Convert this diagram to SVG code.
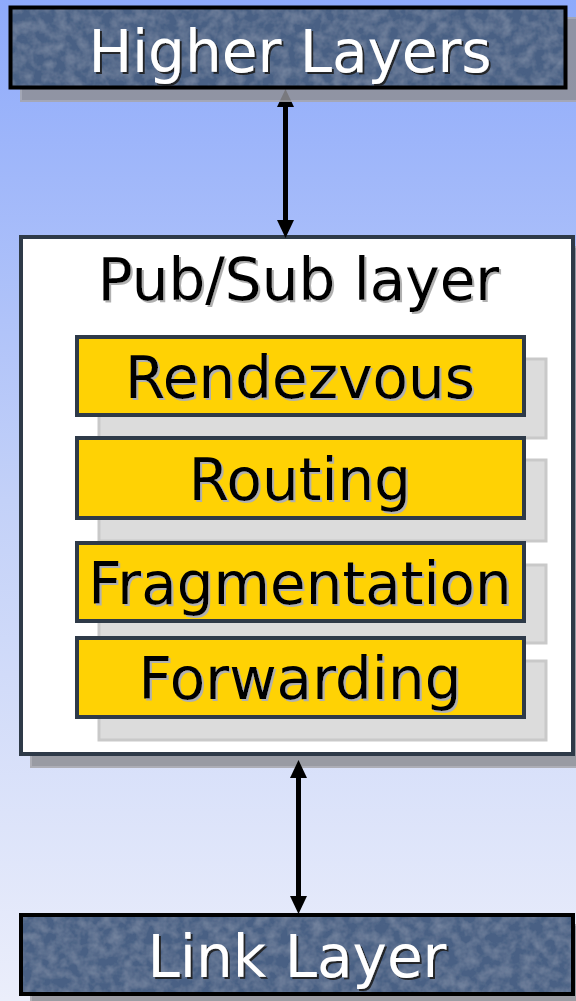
<svg xmlns="http://www.w3.org/2000/svg" width="576" height="1001" viewBox="0 0 576 1001">
  <defs>
    <linearGradient id="bg" x1="0" y1="0" x2="0" y2="1">
      <stop offset="0" stop-color="#8eaafb"/>
      <stop offset="0.5" stop-color="#c3d1f8"/>
      <stop offset="1" stop-color="#ebeefb"/>
    </linearGradient>
    <filter id="tex" x="0" y="0" width="100%" height="100%">
      <feTurbulence type="fractalNoise" baseFrequency="0.09" numOctaves="3" seed="5" result="n"/>
      <feColorMatrix in="n" type="matrix" values="0 0 0 0 0.7  0 0 0 0 0.78  0 0 0 0 0.9  0.3 0 0 0 -0.1" result="w"/>
      <feComposite in="w" in2="SourceGraphic" operator="in" result="wc"/>
      <feMerge><feMergeNode in="SourceGraphic"/><feMergeNode in="wc"/></feMerge>
    </filter>
    <filter id="tsDark" x="-5%" y="-20%" width="115%" height="150%">
      <feDropShadow dx="2" dy="2" stdDeviation="0.4" flood-color="#1a1a1a" flood-opacity="0.9"/>
    </filter>
    <filter id="tsLight" x="-5%" y="-20%" width="115%" height="150%">
      <feDropShadow dx="2" dy="2" stdDeviation="0.4" flood-color="#b0b0b0" flood-opacity="1"/>
    </filter>
    <style>
      .lbl { font-family: "DejaVu Sans", "Liberation Sans", sans-serif; font-size: 58px; text-anchor: middle; }
      .white { fill: #ffffff; filter: url(#tsDark); }
      .black { fill: #000000; filter: url(#tsLight); }
      .shadow { fill: #8f8f95; stroke: #a6a6ab; stroke-width: 2; opacity: 0.85; }
      .blueFill { fill: #4a6184; filter: url(#tex); }
      .blueBorder { fill: none; stroke: #000; stroke-width: 4; }
      .gray { fill: #dcdcdc; stroke: #c9c9c9; stroke-width: 3; }
      .yellow { fill: #ffd204; stroke: #2e3a48; stroke-width: 4; }
      .conn { stroke: #000; stroke-width: 5; fill: none; }
      .head { fill: #000; }
    </style>
  </defs>

  <rect x="0" y="0" width="576" height="1001" fill="url(#bg)"/>

  <g id="pubsub-layer">
    <rect class="shadow" x="31" y="247" width="552" height="520"/>
    <rect x="21" y="237" width="552" height="517" fill="#ffffff" stroke="#2e3a48" stroke-width="4"/>
    <text class="lbl black" x="298.5" y="300">Pub/Sub layer</text>
  </g>

  <g id="rendezvous">
    <rect class="gray" x="99" y="359" width="447" height="79"/>
    <rect class="yellow" x="77" y="337" width="447" height="78"/>
    <text class="lbl black" x="300" y="398">Rendezvous</text>
  </g>

  <g id="routing">
    <rect class="gray" x="99" y="460" width="447" height="81"/>
    <rect class="yellow" x="77" y="438" width="447" height="80"/>
    <text class="lbl black" x="300" y="500">Routing</text>
  </g>

  <g id="fragmentation">
    <rect class="gray" x="99" y="565" width="447" height="78"/>
    <rect class="yellow" x="77" y="543" width="447" height="78"/>
    <text class="lbl black" x="300" y="604">Fragmentation</text>
  </g>

  <g id="forwarding">
    <rect class="gray" x="99" y="661" width="447" height="79"/>
    <rect class="yellow" x="77" y="638" width="447" height="79"/>
    <text class="lbl black" x="300" y="699">Forwarding</text>
  </g>

  <g id="connectors">
    <line class="conn" x1="285.5" y1="104" x2="285.5" y2="222"/>
    <polygon class="head" points="285.5,89 277,107 294,107"/>
    <polygon class="head" points="285.5,238 277,220 294,220"/>
    <line class="conn" x1="298.5" y1="775" x2="298.5" y2="898"/>
    <polygon class="head" points="298.5,760 290,778 307,778"/>
    <polygon class="head" points="298.5,914 290,896 307,896"/>
  </g>

  <g id="higher-layers">
    <rect class="shadow" x="21" y="18" width="562" height="83"/>
    <rect class="blueFill" x="10.5" y="7.5" width="555" height="80"/>
    <rect class="blueBorder" x="10.5" y="7.5" width="555" height="80"/>
    <text class="lbl white" x="290" y="72">Higher Layers</text>
  </g>

  <g id="link-layer">
    <rect class="shadow" x="31" y="925" width="552" height="82"/>
    <rect class="blueFill" x="21" y="915" width="552" height="79"/>
    <rect class="blueBorder" x="21" y="915" width="552" height="79"/>
    <text class="lbl white" x="297" y="977">Link Layer</text>
  </g>
</svg>
